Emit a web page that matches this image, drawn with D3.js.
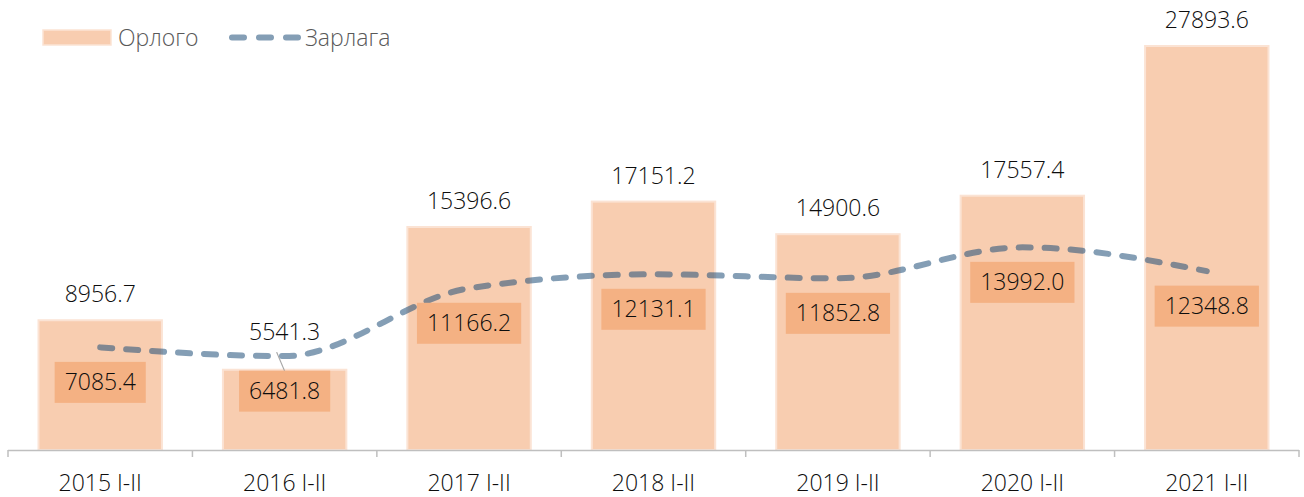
<!DOCTYPE html>
<html><head><meta charset="utf-8">
<script src="https://cdn.jsdelivr.net/npm/d3@7"></script>
<style>body{margin:0;background:#fff}svg{display:block}text{font-family:"Open Sans",sans-serif;font-weight:300}</style>
</head><body><svg id="c" width="1304" height="497"></svg>
<script>
const categories = ["2015 I-II","2016 I-II","2017 I-II","2018 I-II","2019 I-II","2020 I-II","2021 I-II"];
const orlogo = [8956.7, 5541.3, 15396.6, 17151.2, 14900.6, 17557.4, 27893.6];
const zarlaga = [7085.4, 6481.8, 11166.2, 12131.1, 11852.8, 13992.0, 12348.8];
const seriesNames = ["Орлого", "Зарлага"];

const svg = d3.select("#c");
const x = d3.scaleBand().domain(categories).range([8, 1299]).paddingInner(0.32).paddingOuter(0.16);
const y = d3.scaleLinear().domain([0, 30000]).range([450, 15.5]);
const cx = c => x(c) + x.bandwidth() / 2;

const lineGen = d3.line().x((d, i) => cx(categories[i])).y(d => y(d)).curve(d3.curveMonotoneX);

// bars
svg.append("g").selectAll("rect").data(orlogo).join("rect")
  .attr("x", (d, i) => x(categories[i]) + 1)
  .attr("width", x.bandwidth() - 2)
  .attr("y", d => y(d))
  .attr("height", d => y(0) - y(d))
  .attr("fill", "#F8CDB0")
  .attr("stroke", "#FBE3D4").attr("stroke-width", 2);

svg.append("path").datum(zarlaga).attr("d", lineGen)
  .attr("fill", "none").attr("stroke", "#1f4e79").attr("stroke-opacity", 0.55)
  .attr("stroke-width", 6).attr("stroke-linecap", "round")
  .attr("stroke-dasharray", "12 14");

// axis
const axisG = svg.append("g");
axisG.append("line").attr("x1", 8).attr("x2", 1299).attr("y1", 450.5).attr("y2", 450.5).attr("stroke", "#BFBFBF").attr("stroke-width", 1.5);
const bounds = categories.map(c => x(c) - x.step() * x.paddingInner() / 2).concat([1299]);
axisG.selectAll("line.t").data(bounds).join("line").attr("class", "t")
  .attr("x1", d => d).attr("x2", d => d).attr("y1", 450).attr("y2", 457)
  .attr("stroke", "#BFBFBF").attr("stroke-width", 1.5);
axisG.selectAll("text").data(categories).join("text")
  .attr("x", d => cx(d)).attr("y", 491).attr("text-anchor", "middle")
  .attr("font-size", 23).attr("fill", "#0d0d0d").text(d => d);

// bar labels (moved above the line where the line is higher)
svg.append("g").selectAll("text").data(orlogo).join("text")
  .attr("x", (d, i) => cx(categories[i]))
  .attr("y", (d, i) => Math.min(y(d) - 18, y(zarlaga[i]) - 16))
  .attr("text-anchor", "middle").attr("font-size", 23).attr("fill", "#0d0d0d")
  .text(d => d.toFixed(1));

// leader line where bar label moved above line
orlogo.forEach((d, i) => {
  if (y(zarlaga[i]) < y(d)) {
    svg.append("line").attr("x1", cx(categories[i]) - 8).attr("y1", y(zarlaga[i]) - 4)
      .attr("x2", cx(categories[i])).attr("y2", y(zarlaga[i]) + 15)
      .attr("stroke", "#A6A6A6").attr("stroke-width", 1.2);
  }
});

// line labels
const lg = svg.append("g").selectAll("g").data(zarlaga).join("g")
  .attr("transform", (d, i) => `translate(${cx(categories[i])},${y(d) + 35})`);
lg.append("text").attr("text-anchor", "middle").attr("dy", "0.35em")
  .attr("font-size", 23).attr("fill", "#0d0d0d").text(d => d.toFixed(1))
  .each(function () {
    const w = this.getComputedTextLength() + 20;
    d3.select(this.parentNode).insert("rect", "text")
      .attr("x", -w / 2).attr("y", -20.5).attr("width", w).attr("height", 41)
      .attr("fill", "#F4B183");
  });

// legend
const leg = svg.append("g");
leg.append("rect").attr("x", 43).attr("y", 30).attr("width", 68).attr("height", 15)
  .attr("fill", "#F8CDB0").attr("stroke", "#FBE3D4").attr("stroke-width", 1.5);
leg.append("text").attr("x", 118).attr("y", 38).attr("dy", "0.35em").attr("font-size", 23)
  .attr("fill", "#595959").text(seriesNames[0]);
leg.append("line").attr("x1", 232).attr("x2", 298).attr("y1", 37.5).attr("y2", 37.5)
  .attr("stroke", "#1f4e79").attr("stroke-opacity", 0.55).attr("stroke-width", 6)
  .attr("stroke-linecap", "round").attr("stroke-dasharray", "12 15");
leg.append("text").attr("x", 305).attr("y", 38).attr("dy", "0.35em").attr("font-size", 23)
  .attr("fill", "#595959").text(seriesNames[1]);
</script></body></html>
